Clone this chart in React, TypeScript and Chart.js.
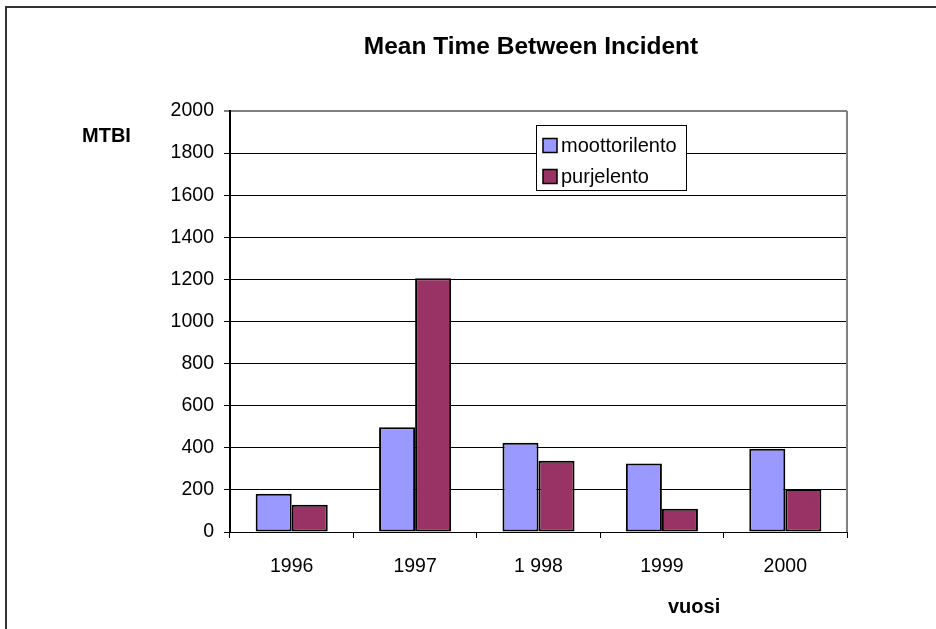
import React, { useEffect, useRef } from "react";
import { Chart, registerables } from "chart.js";

Chart.register(...registerables);

const categories = ["1996", "1997", "1 998", "1999", "2000"];
const moottorilento = [182, 498, 424, 326, 395];
const purjelento = [130, 1205, 338, 111, 204];
const seriesLabels = ["moottorilento", "purjelento"];
const seriesColors = ["#9999FF", "#993366"];
const yMin = 0;
const yMax = 2000;
const yStep = 200;
const titleText = "Mean Time Between Incident";
const yTitle = "MTBI";
const xTitle = "vuosi";

const FONT = "'Liberation Sans', Arial, sans-serif";

const decor = {
  id: "decor",
  afterDraw(chart: any) {
    const ctx = chart.ctx as CanvasRenderingContext2D;
    const a = chart.chartArea;
    ctx.save();
    // outer frame
    ctx.strokeStyle = "#333";
    ctx.lineWidth = 2;
    ctx.beginPath();
    ctx.moveTo(6, 629);
    ctx.lineTo(6, 7);
    ctx.lineTo(936, 7);
    ctx.stroke();
    // plot border right
    ctx.strokeStyle = "#808080";
    ctx.lineWidth = 2;
    ctx.beginPath();
    ctx.moveTo(a.right, a.top);
    ctx.lineTo(a.right, a.bottom);
    ctx.stroke();
    // titles
    ctx.fillStyle = "#000";
    ctx.textBaseline = "middle";
    ctx.textAlign = "center";
    ctx.font = `bold 24.5px ${FONT}`;
    ctx.fillText(titleText, 531, 47);
    ctx.font = `bold 20px ${FONT}`;
    ctx.textAlign = "left";
    ctx.fillText(yTitle, 82, 136);
    ctx.fillText(xTitle, 668, 607);
    // legend
    const lx = 536.5, ly = 125.5, lw = 150, lh = 65;
    ctx.fillStyle = "#fff";
    ctx.fillRect(lx, ly, lw, lh);
    ctx.strokeStyle = "#000";
    ctx.lineWidth = 1;
    ctx.strokeRect(lx, ly, lw, lh);
    const rows = [146.5, 177.5];
    chart.data.datasets.forEach((ds: any, i: number) => {
      const cy = rows[i];
      ctx.fillStyle = ds.backgroundColor;
      ctx.fillRect(543, cy - 8, 14, 14);
      ctx.strokeStyle = "#000";
      ctx.lineWidth = 1.5;
      ctx.strokeRect(543, cy - 8, 14, 14);
      ctx.fillStyle = "#000";
      ctx.font = `20px ${FONT}`;
      ctx.textAlign = "left";
      ctx.textBaseline = "middle";
      ctx.fillText(ds.label, 561, cy);
    });
    ctx.restore();
  },
};

export default function App() {
  const ref = useRef<HTMLCanvasElement | null>(null);
  useEffect(() => {
    if (!ref.current) return;
    Chart.defaults.font.family = FONT;
    Chart.defaults.color = "#000";
    const mk = (i: number, data: number[]) => ({
      label: seriesLabels[i],
      data,
      backgroundColor: seriesColors[i],
      borderColor: "#000",
      borderWidth: 2,
      borderSkipped: false as const,
      categoryPercentage: 0.584,
      barPercentage: 1,
    });
    const chart = new Chart(ref.current, {
      type: "bar",
      data: {
        labels: categories,
        datasets: [mk(0, moottorilento), mk(1, purjelento)],
      },
      options: {
        responsive: false,
        animation: false,
        devicePixelRatio: 1,
        layout: { padding: { top: 111, right: 89, left: 0, bottom: 0 } },
        plugins: {
          legend: { display: false },
          title: { display: false },
          tooltip: { enabled: false },
        },
        scales: {
          x: {
            grid: {
              drawOnChartArea: false,
              drawTicks: true,
              tickLength: 6,
              color: "#000",
              offset: true,
            },
            border: { color: "#000", width: 1 },
            ticks: { font: { size: 19.5 }, color: "#000", padding: 17, maxRotation: 0 },
            afterFit: (s: any) => {
              s.height = 97;
            },
          },
          y: {
            min: yMin,
            max: yMax,
            ticks: {
              stepSize: yStep,
              font: { size: 19.5 },
              color: "#000",
              padding: 10,
              callback: (v: any) => String(v),
            },
            grid: {
              color: (c: any) => (c.tick && c.tick.value === yMax ? "#808080" : "#000"),
              lineWidth: (c: any) => (c.tick && c.tick.value === yMax ? 2 : 1),
              tickLength: 6,
            },
            border: { color: "#000", width: 2 },
            afterFit: (s: any) => {
              s.width = 230;
            },
          },
        },
      },
      plugins: [decor],
    });
    return () => chart.destroy();
  }, []);
  return (
    <div style={{ position: "absolute", left: 0, top: 0, width: 936, height: 629, background: "#fff" }}>
      <canvas ref={ref} width={936} height={629} />
    </div>
  );
}
